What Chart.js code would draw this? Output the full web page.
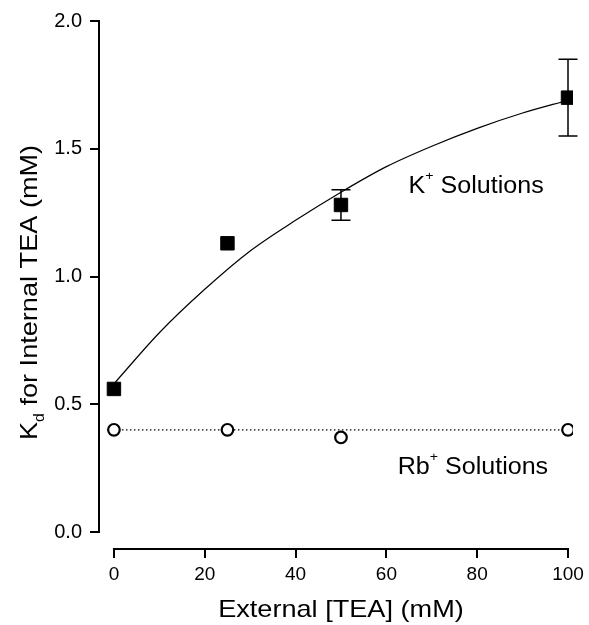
<!DOCTYPE html>
<html>
<head>
<meta charset="utf-8">
<script src="https://cdn.jsdelivr.net/npm/chart.js@4"></script>
<style>
  body { margin: 0; background: #fff; }
  canvas { display: block; }
</style>
</head>
<body>
<canvas id="grafico" width="589" height="625"></canvas>
<script>
// datos
const tea = [0, 25, 50, 100];
const kdK = [0.56, 1.13, 1.28, 1.70];
const errK = [0, 0, 0.06, 0.15];
const kdRb = [0.40, 0.40, 0.37, 0.40];

// curva ajustada (K+) leida a lo largo del trazo
const curvaX = [0, 10, 20, 30, 40, 50, 60, 70, 80, 90, 100];
const curvaY = [0.58, 0.78, 0.95, 1.10, 1.22, 1.33, 1.43, 1.51, 1.58, 1.64, 1.69];

// linea punteada (Rb+)
const lineaX = [0, 100];
const lineaY = [0.40, 0.40];

const xTicks = [0, 20, 40, 60, 80, 100];
const yTicks = [0.0, 0.5, 1.0, 1.5, 2.0];

const fuente = "'Liberation Sans', Arial, sans-serif";

function puntos(xs, ys) {
  return xs.map((x, i) => ({ x: x, y: ys[i] }));
}

// partes: [texto, tamaño, desplazamiento vertical]; estira un poco en horizontal como el original
function textoConIndice(ctx, partes, x, y, estirar) {
  ctx.save();
  ctx.translate(x, y);
  ctx.scale(estirar || 1, 1);
  let pos = 0;
  partes.forEach(p => {
    ctx.font = p[1] + "px " + fuente;
    ctx.fillText(p[0], pos, p[2]);
    pos += ctx.measureText(p[0]).width;
  });
  ctx.restore();
  return pos * (estirar || 1);
}

const extras = {
  id: "extras",
  beforeDatasetsDraw(chart) {
    const ctx = chart.ctx;
    const sx = chart.scales.x;
    const sy = chart.scales.y;
    ctx.save();
    ctx.strokeStyle = "#000";
    ctx.lineWidth = 1.5;
    tea.forEach((t, i) => {
      if (!errK[i]) return;
      const px = sx.getPixelForValue(t);
      const arriba = sy.getPixelForValue(kdK[i] + errK[i]);
      const abajo = sy.getPixelForValue(kdK[i] - errK[i]);
      ctx.beginPath();
      ctx.moveTo(px, arriba);
      ctx.lineTo(px, abajo);
      ctx.moveTo(px - 9.5, arriba);
      ctx.lineTo(px + 9.5, arriba);
      ctx.moveTo(px - 9.5, abajo);
      ctx.lineTo(px + 9.5, abajo);
      ctx.stroke();
    });
    ctx.restore();
  },
  afterDraw(chart) {
    const ctx = chart.ctx;
    const sx = chart.scales.x;
    const sy = chart.scales.y;
    const area = chart.chartArea;
    ctx.save();

    // ejes recortados
    ctx.strokeStyle = "#000";
    ctx.lineWidth = 2;
    ctx.beginPath();
    ctx.moveTo(area.left, sy.getPixelForValue(yTicks[0]) + 1);
    ctx.lineTo(area.left, sy.getPixelForValue(yTicks[yTicks.length - 1]) - 1);
    ctx.moveTo(sx.getPixelForValue(xTicks[0]) - 1, area.bottom);
    ctx.lineTo(sx.getPixelForValue(xTicks[xTicks.length - 1]) + 1, area.bottom);
    ctx.stroke();

    ctx.fillStyle = "#000";
    ctx.textBaseline = "alphabetic";
    ctx.textAlign = "left";

    // titulo eje x
    const estiroTitulo = 1.13;
    ctx.font = "24px " + fuente;
    const tituloX = "External [TEA] (mM)";
    const ancho = ctx.measureText(tituloX).width * estiroTitulo;
    const centro = (sx.getPixelForValue(0) + sx.getPixelForValue(100)) / 2;
    textoConIndice(ctx, [[tituloX, 24, 0]], centro - ancho / 2, 617, estiroTitulo);

    // titulo eje y con subindice
    ctx.save();
    ctx.translate(37, 440);
    ctx.rotate(-Math.PI / 2);
    textoConIndice(ctx, [["K", 24, 0], ["d", 14, 7], [" for Internal TEA (mM)", 24, 0]], 0, 0, estiroTitulo);
    ctx.restore();

    // etiquetas de series
    textoConIndice(ctx, [["K", 23, 0], ["+", 13, -13], [" Solutions", 23, 0]],
      sx.getPixelForValue(64.9), sy.getPixelForValue(1.325), 1.09);
    textoConIndice(ctx, [["Rb", 23, 0], ["+", 13, -13], [" Solutions", 23, 0]],
      sx.getPixelForValue(62.5), sy.getPixelForValue(0.227), 1.09);

    ctx.restore();
  }
};

function crearGrafico() {
  const ctx = document.getElementById("grafico").getContext("2d");

  new Chart(ctx, {
    type: "scatter",
    data: {
      datasets: [
        {
          label: "K+",
          data: puntos(tea, kdK),
          pointStyle: "rect",
          pointRadius: 9.5,
          backgroundColor: "#000",
          borderColor: "#000",
          borderWidth: 1,
          order: 1
        },
        {
          label: "Rb+",
          data: puntos(tea, kdRb),
          pointStyle: "circle",
          pointRadius: 5.8,
          backgroundColor: "#fff",
          borderColor: "#000",
          borderWidth: 2.2,
          order: 2
        },
        {
          label: "ajuste K+",
          data: puntos(curvaX, curvaY),
          showLine: true,
          pointRadius: 0,
          borderColor: "#000",
          borderWidth: 1.2,
          cubicInterpolationMode: "monotone",
          order: 3
        },
        {
          label: "ajuste Rb+",
          data: puntos(lineaX, lineaY),
          showLine: true,
          pointRadius: 0,
          borderColor: "#000",
          borderWidth: 1.3,
          borderDash: [1.5, 2.5],
          order: 4
        }
      ]
    },
    options: {
      responsive: false,
      animation: false,
      devicePixelRatio: 1,
      layout: { padding: { left: 0, right: 14, top: 21, bottom: 0 } },
      plugins: {
        legend: { display: false },
        tooltip: { enabled: false }
      },
      scales: {
        x: {
          type: "linear",
          min: -3.289,
          max: 101.1,
          afterFit(scale) { scale.height = 76; },
          afterBuildTicks(scale) { scale.ticks = xTicks.map(v => ({ value: v })); },
          border: { display: false },
          grid: { drawOnChartArea: false, drawTicks: true, tickLength: 9, color: "#000", lineWidth: 2 },
          ticks: {
            padding: 5,
            color: "#000",
            font: { family: fuente, size: 19 },
            maxRotation: 0,
            callback: v => String(v)
          }
        },
        y: {
          type: "linear",
          min: -0.0665,
          max: 2.0,
          afterFit(scale) { scale.width = 99; },
          afterBuildTicks(scale) { scale.ticks = yTicks.map(v => ({ value: v })); },
          border: { display: false },
          grid: { drawOnChartArea: false, drawTicks: true, tickLength: 9, color: "#000", lineWidth: 2 },
          ticks: {
            padding: 8,
            color: "#000",
            font: { family: fuente, size: 20 },
            callback: v => v.toFixed(1)
          }
        }
      }
    },
    plugins: [extras]
  });
}

document.addEventListener("DOMContentLoaded", () => {
  crearGrafico();
});
</script>
</body>
</html>
